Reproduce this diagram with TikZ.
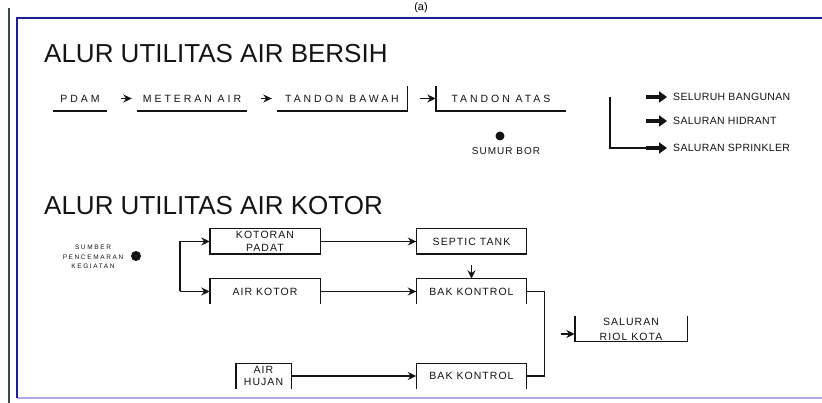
\documentclass[tikz,border=0pt]{standalone}
\usepackage{fontspec}
\setmainfont{Liberation Sans}
\newfontfamily\lblA[LetterSpace=28]{Liberation Sans}
\newfontfamily\lblB[LetterSpace=3]{Liberation Sans}
\newfontfamily\lblC[LetterSpace=10]{Liberation Sans}
\newfontfamily\lblD[LetterSpace=25]{Liberation Sans}
\usetikzlibrary{arrows.meta}
\definecolor{framedark}{RGB}{30,30,150}
\definecolor{framelight}{RGB}{175,168,235}
\definecolor{outerline}{RGB}{60,75,65}
\definecolor{ink}{RGB}{20,20,20}
\begin{document}
\begin{tikzpicture}[x=1pt,y=-1pt,
  ln/.style={line width=1.4pt, draw=ink},
  arr/.style={line width=1.4pt, draw=ink, -{Stealth[length=8.5pt,width=8pt]}},
  bigarr/.style={line width=4.5pt, draw=ink, -{Triangle[length=8pt,width=11pt]}},
  toplbl/.style={inner sep=0pt, minimum height=25pt, text=ink, font=\lblA\fontsize{10.5}{12}\selectfont},
  rlbl/.style={inner sep=0pt, anchor=west, text=ink, font=\lblB\fontsize{10.5}{12}\selectfont},
  box/.style={inner sep=0pt, minimum width=110pt, minimum height=25pt, align=center, text=ink, font=\lblC\fontsize{10.5}{12.5}\selectfont},
  dot/.style={circle, fill=ink, inner sep=0pt, minimum size=9pt},
  title/.style={anchor=base west, inner sep=0pt, text=ink, font=\fontsize{26}{30}\selectfont}]
\useasboundingbox (0,0) rectangle (822,403);
\fill[white] (0,0) rectangle (822,403);
% frame
\draw[line width=1.5pt, outerline] (9,8) -- (9,403);
\draw[line width=2pt, framelight] (17,398) -- (822,398);
\draw[line width=1.5pt, framedark] (17,18) -- (17,398);
\draw[line width=2.5pt, framedark] (16,18) -- (822,18);
\node[anchor=base, inner sep=0pt, font=\fontsize{11}{13}\selectfont] (fig) at (421,11) {(a)};
% titles
\node[title] (t1) at (44,63) {ALUR UTILITAS AIR BERSIH};
\node[title] (t2) at (44,215) {ALUR UTILITAS AIR KOTOR};
% clean water row
\node[toplbl, minimum width=54pt] (pdam) at (80,98.5) {PDAM};
\node[toplbl, minimum width=110pt] (meteran) at (192,98.5) {METERAN AIR};
\node[toplbl, minimum width=130pt] (bawah) at (342,98.5) {TANDON BAWAH};
\node[toplbl, minimum width=130pt] (atas) at (501,98.5) {TANDON ATAS};
\draw[ln] (pdam.south west) -- (pdam.south east);
\draw[ln] (meteran.south west) -- (meteran.south east);
\draw[ln] (bawah.south west) -- (bawah.south east) -- (bawah.north east);
\draw[ln] (atas.north west) -- (atas.south west) -- (atas.south east);
\draw[arr] ([xshift=-16pt]meteran.west) -- ([xshift=-5pt]meteran.west);
\draw[arr] ([xshift=-16pt]bawah.west) -- ([xshift=-5pt]bawah.west);
\draw[arr] ([xshift=-16pt]atas.west) -- (atas.west);
% sumur bor
\node[dot] (sumurdot) at (500,136) {};
\node[inner sep=0pt, text=ink, font=\lblC\fontsize{10}{11}\selectfont] (sumur) at (506,151) {SUMUR BOR};
% distribution
\coordinate (rtop) at (610,97);
\node[rlbl] (seluruh) at (673,97) {SELURUH BANGUNAN};
\node[rlbl] (hidrant) at (673,121) {SALURAN HIDRANT};
\node[rlbl] (sprinkler) at (673,148) {SALURAN SPRINKLER};
\draw[ln] (rtop) |- ([xshift=-20pt]sprinkler.west);
\draw[bigarr] ([xshift=-27pt]seluruh.west) -- ([xshift=-6pt]seluruh.west);
\draw[bigarr] ([xshift=-27pt]hidrant.west) -- ([xshift=-6pt]hidrant.west);
\draw[bigarr] ([xshift=-27pt]sprinkler.west) -- ([xshift=-6pt]sprinkler.west);
% dirty water
\node[inner sep=0pt, align=center, text=ink, font=\lblD\fontsize{6.5}{9.5}\selectfont] (sumber) at (93,257) {SUMBER\\PENCEMARAN\\KEGIATAN};
\node[dot, minimum size=10pt] (srcdot) at (136,256) {};
\node[box] (kotoran) at (265,241.5) {KOTORAN\\PADAT};
\node[box] (airkotor) at (265,291.5) {AIR KOTOR};
\node[box] (septic) at (471.5,241.5) {SEPTIC TANK};
\node[box] (bak1) at (471.5,291.5) {BAK KONTROL};
\node[box] (bak2) at (471.5,376) {BAK KONTROL};
\node[box, minimum width=55pt] (hujan) at (263.5,376) {AIR\\HUJAN};
\node[box, minimum width=112pt, font=\lblC\fontsize{10.5}{15}\selectfont] (riol) at (631,329) {SALURAN\\RIOL KOTA};
\draw[ln] (kotoran.south west) rectangle (kotoran.north east);
\draw[ln] (septic.south west) rectangle (septic.north east);
\draw[ln] (airkotor.south west) -- (airkotor.north west) -- (airkotor.north east) -- (airkotor.south east);
\draw[ln] (bak1.south west) -- (bak1.north west) -- (bak1.north east) -- (bak1.south east);
\draw[ln] (bak2.south west) -- (bak2.north west) -- (bak2.north east) -- (bak2.south east);
\draw[ln] (hujan.south west) -- (hujan.north west) -- (hujan.north east) -- (hujan.south east);
\draw[ln] (riol.north west) -- (riol.south west) -- (riol.south east) -- (riol.north east);
\coordinate (brt) at (180,241.5);
\coordinate (brb) at (180,291.5);
\draw[arr] (brb) -- (brt) -- (kotoran.west);
\draw[arr] (brb) -- (airkotor.west);
\draw[arr] (kotoran.east) -- (septic.west);
\draw[arr] (airkotor.east) -- (bak1.west);
\draw[arr] (hujan.east) -- (bak2.west);
\draw[arr, shorten <=11pt] (septic.south) -- (bak1.north);
\draw[ln] (bak1.east) -- ++(18,0) |- (bak2.east);
\draw[arr] ([xshift=-14pt,yshift=-5pt]riol.west) -- ([yshift=-5pt]riol.west);
\end{tikzpicture}
\end{document}
